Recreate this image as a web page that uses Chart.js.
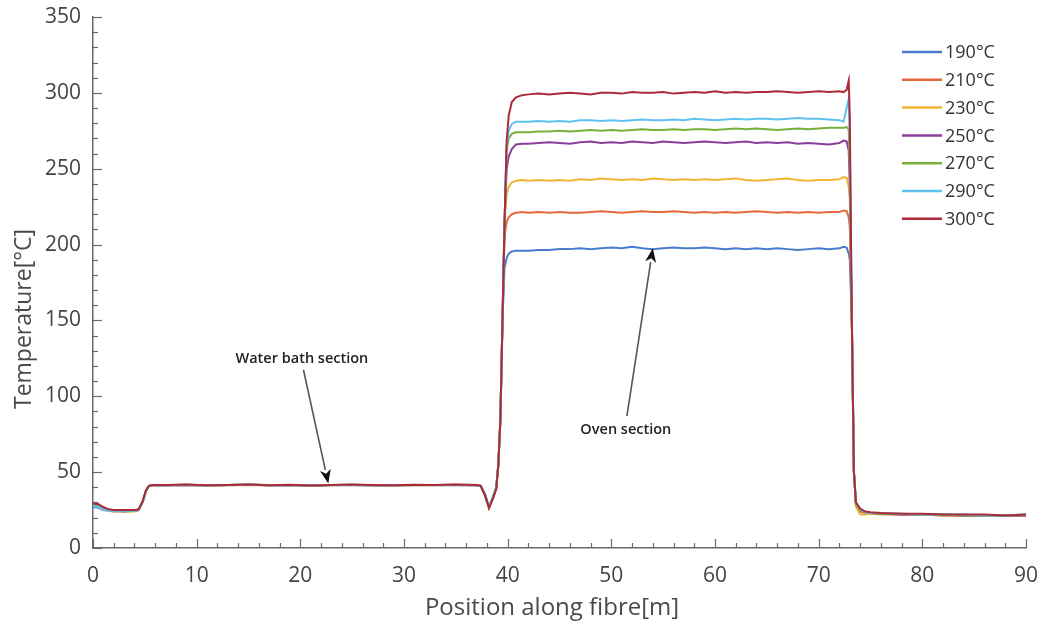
<!DOCTYPE html>
<html><head><meta charset="utf-8">
<script src="https://cdn.jsdelivr.net/npm/chart.js@4.4.1/dist/chart.umd.min.js"></script>
<style>html,body{margin:0;padding:0;background:#fff;}#wrap{width:1039px;height:626px;}</style>
</head><body><div id="wrap"><canvas id="c" width="1039" height="626"></canvas></div>
<script>
// ---- data ----
const positions = [0,0.5,1,1.5,2,3,4,4.4,4.8,5.1,5.4,5.8,
  7,9,11,13,15,17,19,21,23,25,27,29,31,33,35,37,
  37.4,37.8,38.2,38.6,38.9,39.1,39.3,39.5,39.7,39.9,40.1,40.4,40.8,41.4,
  42,43,44,45,46,47,48,49,50,51,52,53,54,55,56,57,58,59,60,61,62,63,64,65,66,67,68,69,70,71,72,
  72.4,72.7,72.9,73.0,73.2,73.4,73.6,74.0,74.5,75,76,78,80,82,84,86,88,90];

const seriesLabels = ['190°C','210°C','230°C','250°C','270°C','290°C','300°C'];

const t190 = [27,26.5,25,24.5,24,24.5,24.5,25,30.5,37.5,41,41.5,
  41.3,41.6,41.2,41.4,41.7,41.3,41.5,41.1,41.4,41.6,41.3,41.2,41.5,41.4,41.6,41.4,
  41,36,27,34,40,55,85,150,185,191,194,195.5,196,196,
  196,196.5,196.5,197,197,197.5,197,197.5,198,197.5,198.5,197.5,197,197.5,198,197.5,197.5,198,197.5,197,197.5,197,197.5,197,197.5,197,196.5,197,197.5,197,197.5,
  198.5,198,194,190,150,50,28,24.5,23,23,22.5,22,22,21.5,21.5,21.5,21.5,21.5];
const t210 = [29,28,26,25,24.5,24.5,24.5,25,30.5,37.5,41,41.5,
  41.4,41.7,41.3,41.5,41.8,41.4,41.6,41.2,41.5,41.7,41.4,41.3,41.6,41.5,41.7,41.5,
  41,35,26.5,33.5,39.5,55,85,150,205,215,218,220,221,221.5,
  221,221.5,221,221.5,221,221,221.5,222,221.5,221,221.5,222,221.5,221.5,222,221.5,221,221.5,221,221.5,221,221.5,222,221.5,221,221.5,221,221.5,221,221.5,221.5,
  222.5,222,218,212,150,50,28,24,23,23,22.5,22,22,21.5,21.5,21.5,21.5,21.5];
const t230 = [28,27,25.5,24.5,24,24,24,25,30.5,37.5,41,41.5,
  41.3,41.5,41.2,41.4,41.6,41.3,41.5,41.1,41.4,41.5,41.3,41.2,41.5,41.4,41.5,41.4,
  41,35,26.5,33.5,39.5,55,85,150,215,233,238,241,242,242.5,
  242,242.5,242,242.5,242,243,242.5,243.5,243,242.5,243,242.5,243.5,243,242.5,243,242.5,243,242.5,243,243.5,242.5,242,242.5,243,243.5,242.5,242,242.5,242.5,243,
  244.5,244,238,230,150,50,27,22,22,22.5,22,22,22,21.5,21.5,21.5,21.5,21.5];
const t250 = [28.5,28,26,25,24.5,24,24.5,25,30.5,37.5,41,41.5,
  41.4,41.6,41.3,41.5,41.7,41.4,41.5,41.2,41.5,41.6,41.4,41.3,41.5,41.5,41.6,41.4,
  41,35,26.5,33.5,39.5,55,85,150,215,250,258,263,266,266.5,
  266.5,267,267.5,267,266.5,267.5,268,267,267.5,267,268,267.5,267,268,267.5,267,267.5,268,267.5,267,267.5,268,267,267.5,267,267.5,266.5,267,266.5,266,267,
  268.5,268,262,240,150,50,29,25,23.5,23,22.5,22,22,22,21.5,21.5,21.5,21.5];
const t270 = [28,27.5,26,25,24.5,24.5,24.5,25,30.5,37.5,41,41.5,
  41.5,41.6,41.4,41.5,41.7,41.5,41.6,41.3,41.5,41.6,41.4,41.4,41.6,41.5,41.6,41.5,
  41,35,26.5,33.5,39.5,55,85,150,215,262,270,273,274,274,
  274,274.5,274.5,275,274.5,275,275.5,275,275.5,275,275.5,276,275.5,275.5,276,275.5,276,276,275.5,276,276.5,276,276.5,276,275.5,276,276.5,276,276.5,277,277,
  277,277.5,276,250,150,50,29,25,23.5,23,22.5,22.5,22,22,21.5,21.5,21.5,22];
const t290 = [27.5,27,25.5,24.5,24.5,24.5,24.5,25,30.5,37.5,41,41.5,
  41.4,41.7,41.3,41.5,41.8,41.4,41.6,41.2,41.5,41.7,41.4,41.3,41.6,41.5,41.7,41.5,
  41,35.5,27,34,40,55,85,150,215,265,275,279.5,281,281,
  281,281.5,281,281.5,281,282,282,281.5,282,281.5,282,282.5,282,282,282.5,282,283,282.5,282,282.5,283,282.5,283,283,282.5,283,283.5,283,283,282.5,282,
  281,290,296,270,150,50,30,25.5,23.5,23,23,22.5,22,22,22,21.5,21.5,22];
const t300 = [30,29,27,25.5,25,25,25,25.5,31,38,41,41.5,
  41.5,41.8,41.3,41.6,41.9,41.4,41.7,41.2,41.6,41.8,41.5,41.3,41.7,41.6,41.8,41.6,
  41,35,26.5,33,39,55,85,150,215,268,285,294,297,298.5,
  299,299.5,299,299.5,300,299.5,299,300,300,299.5,300.5,300,300,300.5,299.5,300,300.5,300,301,300,300.5,300,300.5,300.5,301,300.5,300,300.5,301,300.5,301,
  300.5,302,308,285,150,50,30,26,24,23.5,23,22.5,22.5,22,22,22,21.5,22];

const xTickValues = [0,10,20,30,40,50,60,70,80,90];
const yTickValues = [0,50,100,150,200,250,300,350];
const xMinorStep = 2;
const yMinorStep = 10;

const annotations = [
  {text:'Water bath section', tx:20.15, ty:124.6, fx:20.3, fy:117.5, ax:22.7, ay:42.5},
  {text:'Oven section', tx:51.4, ty:78.1, fx:51.5, fy:87, ax:54.0, ay:197.5}
];

// ---- styles ----
const colors = ['#4a7ccc','#e6693c','#efb631','#8a3e9c','#7aae3d','#5ec3ef','#ad2a3a'];
const allSeries = [t190,t210,t230,t250,t270,t290,t300];
const FONT = "'Open Sans', 'Noto Sans', sans-serif";

const datasets = allSeries.map((arr, i) => ({
  label: seriesLabels[i],
  data: positions.map((x, k) => ({x: x, y: arr[k]})),
  borderColor: colors[i],
  backgroundColor: colors[i],
  borderWidth: 2,
  pointRadius: 0,
  tension: 0,
  order: allSeries.length - 1 - i
}));

function zeroPad(s) { s.paddingTop = 0; s.paddingBottom = 0; s.paddingLeft = 0; s.paddingRight = 0; }

const customDraw = {
  id: 'customDraw',
  afterDatasetsDraw(chart) {
    const ctx = chart.ctx;
    const {left, right, top, bottom} = chart.chartArea;
    const xs = chart.scales.x, ys = chart.scales.y;
    ctx.save();
    // inward ticks
    ctx.strokeStyle = '#6a6a6a';
    ctx.lineWidth = 1.2;
    for (let v = xs.min; v <= xs.max + 1e-9; v += xMinorStep) {
      const px = Math.round(xs.getPixelForValue(v)) + 0.5;
      const len = xTickValues.includes(v) ? 9 : 5;
      ctx.beginPath(); ctx.moveTo(px, bottom); ctx.lineTo(px, bottom - len); ctx.stroke();
    }
    for (let v = ys.min; v <= ys.max + 1e-9; v += yMinorStep) {
      const py = Math.round(ys.getPixelForValue(v)) + 0.5;
      const len = yTickValues.includes(v) ? 9 : 5;
      ctx.beginPath(); ctx.moveTo(left, py); ctx.lineTo(left + len, py); ctx.stroke();
    }
    // annotations
    annotations.forEach(a => {
      const tx = xs.getPixelForValue(a.tx), ty = ys.getPixelForValue(a.ty);
      const fx = xs.getPixelForValue(a.fx), fy = ys.getPixelForValue(a.fy);
      const ax = xs.getPixelForValue(a.ax), ay = ys.getPixelForValue(a.ay);
      ctx.fillStyle = '#222';
      ctx.font = '600 14.5px ' + FONT;
      ctx.textAlign = 'center'; ctx.textBaseline = 'middle';
      ctx.fillText(a.text, tx, ty);
      const ang = Math.atan2(ay - fy, ax - fx);
      const hl = 14, hw = 5.5;
      const bx = ax - hl * Math.cos(ang), by = ay - hl * Math.sin(ang);
      ctx.strokeStyle = '#555'; ctx.lineWidth = 1.6;
      ctx.beginPath(); ctx.moveTo(fx, fy); ctx.lineTo(bx, by); ctx.stroke();
      ctx.fillStyle = '#111';
      ctx.beginPath();
      ctx.moveTo(ax, ay);
      ctx.lineTo(bx + hw * Math.sin(ang), by - hw * Math.cos(ang));
      ctx.lineTo(ax - (hl - 4) * Math.cos(ang), ay - (hl - 4) * Math.sin(ang));
      ctx.lineTo(bx - hw * Math.sin(ang), by + hw * Math.cos(ang));
      ctx.closePath(); ctx.fill();
    });
    // legend
    ctx.font = '18px ' + FONT;
    ctx.textAlign = 'left'; ctx.textBaseline = 'middle';
    chart.data.datasets.forEach((ds, i) => {
      const yy = 52 + i * 27.8;
      ctx.strokeStyle = ds.borderColor; ctx.lineWidth = 2.5;
      ctx.beginPath(); ctx.moveTo(902, yy); ctx.lineTo(942, yy); ctx.stroke();
      ctx.fillStyle = '#333';
      ctx.fillText(ds.label, 945, yy + 1);
    });
    // axis titles
    ctx.fillStyle = '#4a4a4a';
    ctx.font = '24px ' + FONT;
    ctx.textAlign = 'center'; ctx.textBaseline = 'middle';
    ctx.fillText('Position along fibre[m]', 552, 608);
    ctx.save();
    ctx.translate(24, 319);
    ctx.rotate(-Math.PI / 2);
    ctx.font = '23px ' + FONT;
    ctx.fillText('Temperature[°C]', 0, 0);
    ctx.restore();
    ctx.restore();
  }
};

new Chart(document.getElementById('c'), {
  type: 'line',
  data: {datasets: datasets},
  options: {
    responsive: false,
    devicePixelRatio: 1,
    animation: false,
    events: [],
    layout: {padding: {top: 17, right: 13, left: 0, bottom: 0}},
    plugins: {legend: {display: false}, tooltip: {enabled: false}},
    scales: {
      x: {
        type: 'linear', min: 0, max: 90,
        afterBuildTicks: s => { s.ticks = xTickValues.map(v => ({value: v})); },
        ticks: {color: '#444', font: {family: FONT, size: 21}, padding: 15, maxRotation: 0},
        grid: {display: false, drawTicks: false},
        border: {display: true, color: '#6a6a6a', width: 1.5},
        afterFit: s => { s.height = 78; zeroPad(s); }
      },
      y: {
        type: 'linear', min: 0, max: 350,
        afterBuildTicks: s => { s.ticks = yTickValues.map(v => ({value: v})); },
        ticks: {color: '#444', font: {family: FONT, size: 21}, padding: 12},
        grid: {display: false, drawTicks: false},
        border: {display: true, color: '#6a6a6a', width: 1.5},
        afterFit: s => { s.width = 93; zeroPad(s); }
      }
    }
  },
  plugins: [customDraw]
});
</script></body></html>
